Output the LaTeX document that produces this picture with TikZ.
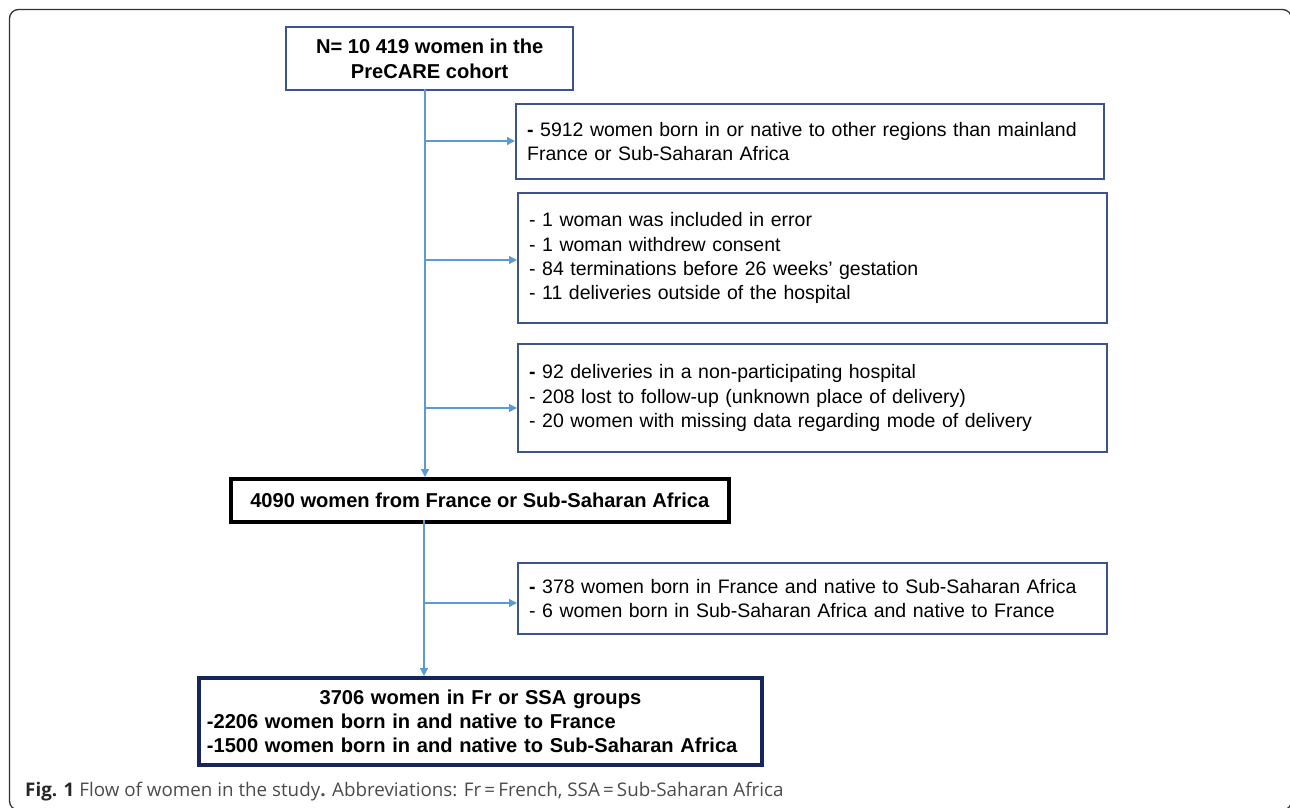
\documentclass[tikz,border=0pt]{standalone}
\usepackage{fontspec}
\setmainfont{Liberation Sans}
\newfontfamily\capfont{Open Sans}
\usetikzlibrary{arrows.meta}
\definecolor{boxblue}{RGB}{60,84,140}
\definecolor{navy}{RGB}{22,38,92}
\definecolor{arrowblue}{RGB}{91,155,213}
\definecolor{framegray}{RGB}{50,50,50}
\definecolor{capgray}{RGB}{75,75,75}
\begin{document}
\begin{tikzpicture}[x=1pt,y=-1pt,
  sidebox/.style={draw=boxblue,line width=2.4pt,anchor=north west,inner xsep=11pt,inner ysep=0pt,align=left,font=\fontsize{19.5}{24.3}\selectfont},
  boldtext/.style={font=\bfseries\fontsize{20.1}{24.3}\selectfont},
  arr/.style={draw=arrowblue,line width=1.4pt,-{Triangle[length=8pt,width=8pt]}}]
\useasboundingbox (0,0) rectangle (1290,808);
\draw[framegray,line width=1.3pt,rounded corners=9pt] (9.5,9.5) rectangle (1291.5,810);
% top box
\node[draw=boxblue,line width=2.4pt,anchor=north west,minimum width=287pt,minimum height=63pt,inner sep=0pt,align=center,boldtext] (top) at (285,26) {N= 10 419 women in the\\PreCARE cohort};
% side boxes
\node[sidebox,minimum width=588pt,minimum height=75pt,text width=566pt] (bA) at (515,103) {\textbf{-} 5912 women born in or native to other regions than mainland\\France or Sub-Saharan Africa};
\node[sidebox,minimum width=589pt,minimum height=130pt,text width=567pt] (bB) at (517,192) {- 1 woman was included in error\\- 1 woman withdrew consent\\- 84 terminations before 26 weeks’ gestation\\- 11 deliveries outside of the hospital};
\node[sidebox,minimum width=589pt,minimum height=108pt,text width=567pt] (bC) at (517,343) {\textbf{-} 92 deliveries in a non-participating hospital\\- 208 lost to follow-up (unknown place of delivery)\\- 20 women with missing data regarding mode of delivery};
\node[sidebox,minimum width=589pt,minimum height=71pt,text width=567pt] (bD) at (517,562) {\textbf{-} 378 women born in France and native to Sub-Saharan Africa\\- 6 women born in Sub-Saharan Africa and native to France};
% middle box
\node[draw=black,line width=3.6pt,anchor=north west,minimum width=498pt,minimum height=43pt,inner sep=0pt,boldtext] (mid) at (229,477) {4090 women from France or Sub-Saharan Africa};
% final box
\node[draw=navy,line width=3.8pt,anchor=north west,minimum width=563pt,minimum height=87pt,inner xsep=8pt,inner ysep=0pt,text width=547pt,align=left,boldtext] (fin) at (197,676) {\makebox[\hsize][c]{3706 women in Fr or SSA groups}\\-2206 women born in and native to France\\-1500 women born in and native to Sub-Saharan Africa};
% connectors
\coordinate (t0) at (425,89);
\coordinate (t1) at (424,520);
\draw[arr] (t0) -- (t0 |- mid.north);
\draw[arr] (t1) -- (t1 |- fin.north);
\coordinate (jA) at (425,141);
\coordinate (jB) at (425,260);
\coordinate (jC) at (425,408);
\coordinate (jD) at (424,603);
\draw[arr] (jA) -- (jA -| bA.west);
\draw[arr] (jB) -- (jB -| bB.west);
\draw[arr] (jC) -- (jC -| bC.west);
\draw[arr] (jD) -- (jD -| bD.west);
% caption
\node[anchor=base west,inner sep=0pt,font=\capfont\fontsize{18.8}{22}\selectfont,text=capgray] (cap) at (25,796) {{\bfseries\color{black!85}Fig. 1} Flow of women in the study{\bfseries.} Abbreviations: Fr\,=\,French, SSA\,=\,Sub-Saharan Africa};
\end{tikzpicture}
\end{document}
